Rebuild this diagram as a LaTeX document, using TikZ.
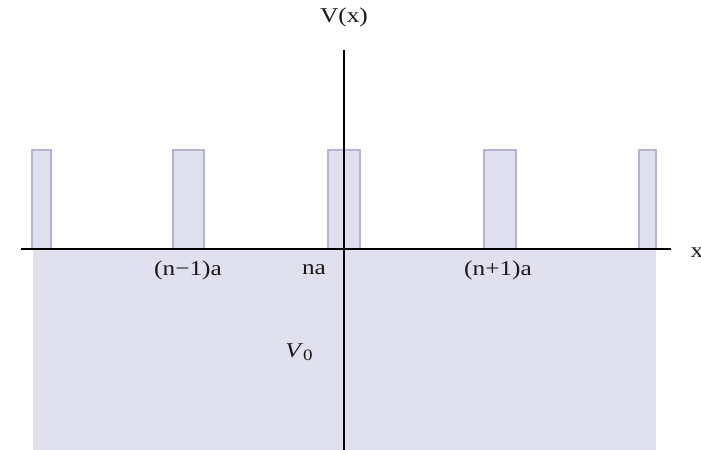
\documentclass[tikz,border=0pt]{standalone}
\usepackage{fontspec}
\setmainfont{Liberation Serif}
\usetikzlibrary{positioning}

\definecolor{wellfill}{RGB}{224,224,238}
\definecolor{welledge}{RGB}{180,180,208}
\newcommand{\wide}[1]{\scalebox{1.2}[1]{#1}}

\begin{document}
\begin{tikzpicture}[
    x=0.02cm, y=-0.02cm,
    every node/.style={font=\fontsize{12}{14}\selectfont, inner sep=0pt, text=black!90},
    well/.style={fill=wellfill},
    barrier/.style={fill=wellfill, draw=welledge, line width=0.7pt},
    axis/.style={line width=1pt, black},
]

% ---- Frame ----
\useasboundingbox (0,0) rectangle (701,450);

% ---- Well below the axis ----
\fill[well] (33,249) rectangle (656,450);

% ---- Barriers ----
\foreach \l/\r in {32/51,173/204,328/360,484/516,639/656}
  \draw[barrier] (\l,249) |- (\r,150) -- (\r,249);

% ---- Axes ----
\coordinate (xstart) at (21,249);
\coordinate (xend) at (671,249);
\coordinate (ytop) at (344,50);
\coordinate (ybot) at (344,450);
\draw[axis] (xstart) -- (xend);
\draw[axis] (ybot) -- (ytop);

\node[above=13pt of ytop] (vlabel) {\wide{V(x)}};
\node[right=11pt of xend, yshift=-2pt] (xlabel) {\wide{x}};

% ---- Lattice positions ----
\node (nminus) at (188,270) {\wide{(n−1)a}};
\node (nzero) at (314,270) {\wide{na}};
\node (nplus) at (498,270) {\wide{(n+1)a}};
\node (vzero) at (299,352) {\wide{\textit{V}\raisebox{-0.35ex}{\small 0}}};

\end{tikzpicture}
\end{document}
